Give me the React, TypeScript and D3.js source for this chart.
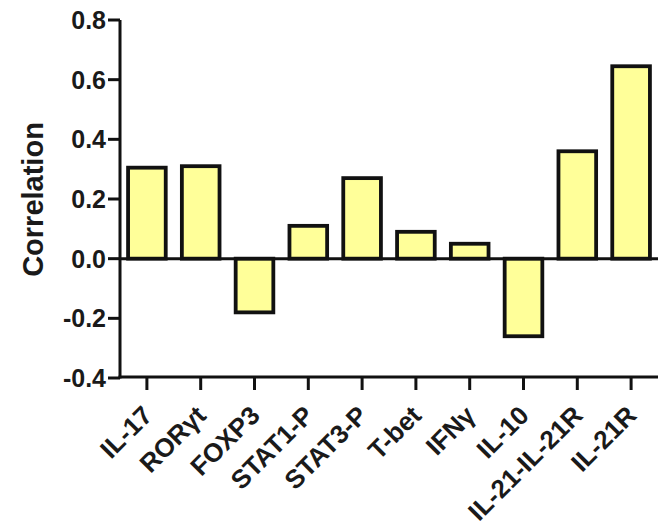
import React from "react";
import * as d3 from "d3";

const categories = ["IL-17", "RORγt", "FOXP3", "STAT1-P", "STAT3-P", "T-bet", "IFNγ", "IL-10", "IL-21-IL-21R", "IL-21R"];
const values = [0.305, 0.31, -0.18, 0.11, 0.27, 0.09, 0.05, -0.26, 0.36, 0.645];
const yTicks = [-0.4, -0.2, 0.0, 0.2, 0.4, 0.6, 0.8];

const W = 659;
const H = 527;
const FONT = "'Liberation Sans', Arial, sans-serif";

export default function App() {
  const x = d3.scaleBand<string>().domain(categories).range([120, 658]).paddingInner(0.3).paddingOuter(0.15);
  const y = d3.scaleLinear().domain([-0.4, 0.8]).range([378, 20]);
  const axisY = 377;
  return (
    <svg width={W} height={H} style={{ position: "absolute", left: 0, top: 0, background: "#fff" }}>
      {categories.map((c, i) => {
        const v = values[i];
        const x0 = x(c)!;
        const top = y(Math.max(0, v));
        const bot = y(Math.min(0, v));
        return (
          <rect key={c} x={x0} y={top} width={x.bandwidth()} height={bot - top}
            fill="#ffff99" stroke="#111" strokeWidth={3.8} />
        );
      })}
      {/* zero line */}
      <line x1={120} x2={658} y1={y(0)} y2={y(0)} stroke="#111" strokeWidth={3} />
      {/* y axis */}
      <line x1={120} x2={120} y1={y(0.8)} y2={axisY + 1.5} stroke="#111" strokeWidth={3} />
      {yTicks.map(t => (
        <g key={t}>
          <line x1={108} x2={120} y1={y(t)} y2={y(t)} stroke="#111" strokeWidth={3} />
          <text x={106} y={y(t)} dy="0.36em" textAnchor="end" fontFamily={FONT} fontWeight="bold" fontSize={25} fill="#1a1a1a">
            {t.toFixed(1)}
          </text>
        </g>
      ))}
      {/* x axis */}
      <line x1={118.5} x2={658} y1={axisY} y2={axisY} stroke="#111" strokeWidth={3} />
      {categories.map(c => {
        const cx = x(c)! + x.bandwidth() / 2;
        return (
          <g key={c}>
            <line x1={cx} x2={cx} y1={axisY} y2={axisY + 13} stroke="#111" strokeWidth={3} />
            <text transform={`translate(${cx + 7},${axisY + 40}) rotate(-45)`} textAnchor="end"
              fontFamily={FONT} fontWeight="bold" fontSize={26} fill="#1a1a1a">
              {c}
            </text>
          </g>
        );
      })}
      <text transform={`translate(43,199.5) rotate(-90)`} textAnchor="middle" fontFamily={FONT} fontWeight="bold" fontSize={29} fill="#1a1a1a">
        Correlation
      </text>
    </svg>
  );
}
